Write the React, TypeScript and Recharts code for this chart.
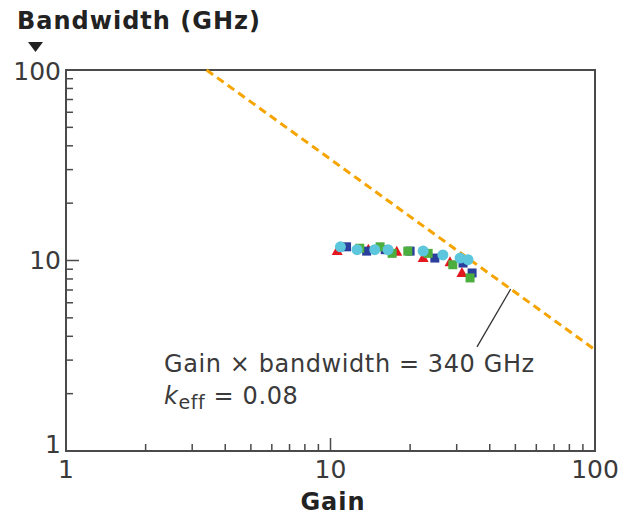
import {
  ScatterChart,
  Scatter,
  XAxis,
  YAxis,
  ReferenceLine,
  ReferenceArea,
} from "recharts";

// tick values (major ones get a label)
const xTicks = [1, 2, 3, 4, 5, 6, 7, 8, 9, 10, 20, 30, 40, 50, 60, 70, 80, 90, 100];
const yTicks = [1, 2, 3, 4, 5, 6, 7, 8, 9, 10, 20, 30, 40, 50, 60, 70, 80, 90, 100];
const majorTicks = [1, 10, 100];

// measured devices, gain vs bandwidth (GHz)
const redGain = [10.6, 13.9, 17.8, 22.4, 28.3, 31.4];
const redBw = [11.2, 11.4, 11.1, 10.3, 9.8, 8.6];

const blueGain = [11.5, 13.7, 16.1, 20.0, 24.8, 31.7, 34.3];
const blueBw = [11.8, 11.2, 11.4, 11.2, 10.3, 9.7, 8.6];

const greenGain = [12.9, 15.4, 17.1, 19.6, 23.4, 29.0, 33.7];
const greenBw = [11.6, 11.8, 10.9, 11.2, 10.9, 9.5, 8.1];

const cyanGain = [10.9, 12.6, 14.7, 16.5, 22.4, 26.6, 30.9, 33.1];
const cyanBw = [11.8, 11.4, 11.4, 11.4, 11.2, 10.7, 10.3, 10.1];

const GAIN_BW_PRODUCT = 340;
const callout = [
  { x: 48, y: GAIN_BW_PRODUCT / 48 },
  { x: 35.8, y: 3.52 },
];

const toPoints = (g: number[], b: number[]) => g.map((v, i) => ({ gain: v, bw: b[i] }));

const FONT = "'DejaVu Sans', sans-serif";
const TEXT = "#3a3a3a";
const FRAME = "#4a4a4a";

const XTick = (props: any) => {
  const { x, y, payload } = props;
  const v = payload.value;
  const major = majorTicks.includes(v);
  return (
    <g>
      {v !== 1 && v !== 100 && (
        <line x1={x} x2={x} y1={y} y2={y - (major ? 13 : 7)} stroke={FRAME} strokeWidth={1.5} />
      )}
      {major && (
        <text x={x} y={y + 27} textAnchor="middle" fontFamily={FONT} fontSize={25} fill={TEXT}>
          {v}
        </text>
      )}
    </g>
  );
};

const YTick = (props: any) => {
  const { x, y, payload } = props;
  const v = payload.value;
  const major = majorTicks.includes(v);
  const dy = v === 1 ? 2 : v === 100 ? 10 : 8;
  return (
    <g>
      {v !== 1 && v !== 100 && (
        <line x1={x} x2={x + (major ? 13 : 7)} y1={y} y2={y} stroke={FRAME} strokeWidth={1.5} />
      )}
      {major && (
        <text x={x - 5} y={y + dy} textAnchor="end" fontFamily={FONT} fontSize={25} fill={TEXT}>
          {v}
        </text>
      )}
    </g>
  );
};

const Triangle = ({ cx, cy }: any) => (
  <path d={`M${cx},${cy - 6} L${cx + 5.5},${cy + 4} L${cx - 5.5},${cy + 4} Z`} fill="#e3171f" />
);
const Square = (color: string) => ({ cx, cy }: any) => (
  <rect x={cx - 4.5} y={cy - 4.5} width={9} height={9} fill={color} />
);
const Circle = ({ cx, cy }: any) => <circle cx={cx} cy={cy} r={5.5} fill="#5cc6dc" />;

export default function App() {
  return (
    <div style={{ position: "absolute", left: 0, top: 0, width: 640, height: 526, background: "#fff" }}>
      <div
        style={{
          position: "absolute",
          left: 17,
          top: 7,
          fontFamily: FONT,
          fontWeight: "bold",
          fontSize: 24,
          letterSpacing: 1,
          color: "#222",
          whiteSpace: "nowrap",
        }}
      >
        Bandwidth (GHz)
      </div>
      <svg style={{ position: "absolute", left: 0, top: 0 }} width={60} height={60}>
        <path d="M28,42 L43,42 L35.5,52 Z" fill="#222" />
      </svg>
      <ScatterChart width={640} height={526} margin={{ top: 70, right: 45, bottom: 0, left: 0 }}>
        <XAxis
          type="number"
          dataKey="gain"
          scale="log"
          domain={[1, 100]}
          ticks={xTicks}
          interval={0}
          allowDataOverflow
          axisLine={false}
          tickLine={false}
          tickSize={0}
          tickMargin={0}
          height={75}
          tick={<XTick />}
        />
        <YAxis
          type="number"
          dataKey="bw"
          scale="log"
          domain={[1, 100]}
          ticks={yTicks}
          interval={0}
          allowDataOverflow
          axisLine={false}
          tickLine={false}
          tickSize={0}
          tickMargin={0}
          width={66}
          tick={<YTick />}
        />
        <ReferenceArea x1={1} x2={100} y1={1} y2={100} fill="none" stroke={FRAME} strokeWidth={2} />
        <ReferenceLine
          segment={[
            { x: GAIN_BW_PRODUCT / 100, y: 100 },
            { x: 100, y: GAIN_BW_PRODUCT / 100 },
          ]}
          stroke="#f5a400"
          strokeWidth={3}
          strokeDasharray="8 5"
        />
        <ReferenceLine segment={callout} stroke="#333" strokeWidth={1.3} />
        <Scatter data={toPoints(redGain, redBw)} shape={Triangle} isAnimationActive={false} />
        <Scatter data={toPoints(blueGain, blueBw)} shape={Square("#2a3f9d")} isAnimationActive={false} />
        <Scatter data={toPoints(greenGain, greenBw)} shape={Square("#4cae3d")} isAnimationActive={false} />
        <Scatter data={toPoints(cyanGain, cyanBw)} shape={Circle} isAnimationActive={false} />
      </ScatterChart>
      <div
        style={{
          position: "absolute",
          left: 0,
          top: 488,
          width: 666,
          textAlign: "center",
          fontFamily: FONT,
          fontWeight: "bold",
          fontSize: 24,
          letterSpacing: 1,
          color: "#222",
        }}
      >
        Gain
      </div>
      <div
        style={{
          position: "absolute",
          left: 164,
          top: 348,
          fontFamily: FONT,
          fontSize: 24,
          letterSpacing: 0.6,
          lineHeight: "32px",
          color: TEXT,
          whiteSpace: "nowrap",
        }}
      >
        <div>Gain × bandwidth = 340 GHz</div>
        <div>
          <i>k</i>
          <sub style={{ fontSize: 19, verticalAlign: "-5px", lineHeight: 0 }}>eff</sub> = 0.08
        </div>
      </div>
    </div>
  );
}
